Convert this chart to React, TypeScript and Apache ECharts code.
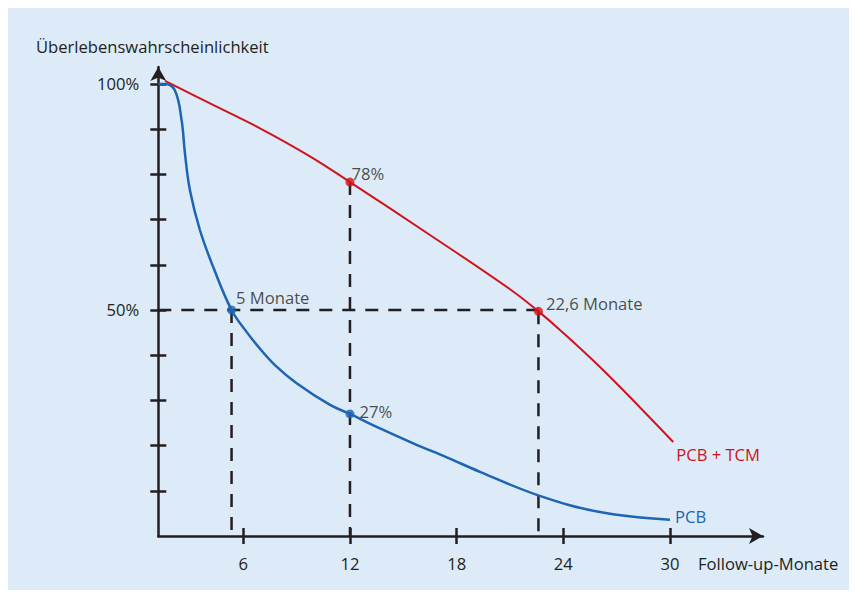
import React, { useEffect, useRef } from "react";
import * as echarts from "echarts";

// Follow-up months and survival probability (%)
const pcbMonths = [1.22, 1.59, 2.15, 2.53, 2.72, 3.0, 3.56, 4.31, 5.34, 6.1, 6.84, 7.78, 9.0, 10.88, 12.0, 13.69, 15.56, 17.44, 19.31, 22.59, 26.06, 30.0];
const pcbSurvival = [100, 100, 98.6, 92.0, 84.6, 76.5, 67.7, 59.5, 50, 45.6, 41.9, 37.8, 33.8, 29.0, 27, 23.8, 20.5, 17.4, 14.2, 9.0, 5.3, 3.6];

const tcmMonths = [1.6, 4.13, 6.94, 9.75, 12, 16.5, 21.0, 22.6, 23.81, 26.06, 28.3, 30.18];
const tcmSurvival = [100.7, 95.7, 90.2, 84.0, 78.3, 66.6, 54.6, 49.7, 45.6, 37.4, 28.5, 20.8];

// Highlighted points
const tcmPointMonths = [12, 22.6];
const tcmPointValues = [78.3, 49.7];
const tcmPointLabels = ["78%", "22,6 Monate"];

const pcbPointMonths = [5.34, 12];
const pcbPointValues = [50, 27];
const pcbPointLabels = ["5 Monate", "27%"];

// Axes
const xTickValues = [6, 12, 18, 24, 30];
const yTickValues = [10, 20, 30, 40, 50, 60, 70, 80, 90, 100];
const yLabelValues = [50, 100];
const xMin = 1.22;
const xMax = 35.23;
const yMin = 0;
const yMax = 103.76;
const halfLevel = 50;

const seriesNames = ["PCB + TCM", "PCB"];
const axisNames = ["Follow-up-Monate", "Überlebenswahrscheinlichkeit"];

const RED = "#d0131c";
const BLUE = "#1d64b4";
const INK = "#231f20";
const FONT = "Open Sans";
const FS = 16.6;

export default function App() {
  const ref = useRef<HTMLDivElement>(null);
  useEffect(() => {
    if (!ref.current) return;
    const chart = echarts.init(ref.current, undefined, { renderer: "svg" });

    const dashStyle = { color: INK, width: 2.5, type: [13, 10] as number[] };
    const guide = (pts: number[][]) => ({
      type: "line",
      data: pts,
      symbol: "none",
      lineStyle: dashStyle,
      silent: true,
      z: 1,
    });

    const labelOffsets: Record<string, number[]> = {
      "78%": [-8, -9],
      "22,6 Monate": [-2, -8],
      "5 Monate": [-5, -12],
      "27%": [0, -2],
    };

    const pointSeries = (months: number[], vals: number[], labels: string[], color: string) => ({
      type: "scatter",
      symbol: "circle",
      symbolSize: 9,
      itemStyle: { color },
      z: 5,
      data: months.map((m, i) => ({
        value: [m, vals[i]],
        label: {
          show: true,
          position: "right",
          distance: 5,
          formatter: labels[i],
          offset: labelOffsets[labels[i]],
          color: INK,
          fontSize: FS,
          fontFamily: FONT,
        },
      })),
    });

    const baseX = {
      type: "value",
      min: xMin,
      max: xMax,
      position: "bottom",
      splitLine: { show: false },
    };
    const baseY = {
      type: "value",
      min: yMin,
      max: yMax,
      position: "left",
      splitLine: { show: false },
    };

    chart.setOption({
      animation: false,
      backgroundColor: "transparent",
      grid: { left: 150.3, right: 86, top: 59, bottom: 54 },
      xAxis: [
        {
          ...baseX,
          axisLine: {
            show: true,
            onZero: false,
            lineStyle: { color: INK, width: 2.5 },
            symbol: ["none", "arrow"],
            symbolSize: [12, 14],
          },
          axisTick: { show: true, length: 8, customValues: xTickValues, lineStyle: { color: INK, width: 2.5 } },
          axisLabel: {
            show: true,
            customValues: xTickValues,
            margin: 19,
            color: INK,
            fontSize: FS,
            fontFamily: FONT,
          },
        },
        {
          ...baseX,
          axisLine: { show: false, onZero: false },
          axisTick: { show: true, inside: true, length: 8, customValues: xTickValues, lineStyle: { color: INK, width: 2.5 } },
          axisLabel: { show: false },
        },
      ],
      yAxis: [
        {
          ...baseY,
          name: axisNames[1],
          nameLocation: "end",
          nameGap: 12,
          nameTextStyle: { color: INK, fontSize: FS, fontFamily: FONT, align: "center", padding: [0, 12, 0, 0] },
          axisLine: {
            show: true,
            onZero: false,
            lineStyle: { color: INK, width: 2.5 },
            symbol: ["none", "arrow"],
            symbolSize: [12, 14],
          },
          axisTick: { show: true, length: 8, customValues: yTickValues, lineStyle: { color: INK, width: 2.5 } },
          axisLabel: {
            show: true,
            customValues: yLabelValues,
            formatter: "{value}%",
            margin: 19,
            color: INK,
            fontSize: FS,
            fontFamily: FONT,
          },
        },
        {
          ...baseY,
          axisLine: { show: false, onZero: false },
          axisTick: { show: true, inside: true, length: 8, customValues: yTickValues, lineStyle: { color: INK, width: 2.5 } },
          axisLabel: { show: false },
        },
      ],
      graphic: [
        {
          type: "text",
          x: 690,
          y: 555,
          style: {
            text: axisNames[0],
            fill: INK,
            font: `${FS}px "${FONT}"`,
            verticalAlign: "middle",
            align: "left",
          },
        },
      ],
      series: [
        guide([[xMin, halfLevel], [tcmPointMonths[1], halfLevel]]),
        guide([[pcbPointMonths[0], pcbPointValues[0]], [pcbPointMonths[0], 0]]),
        guide([[tcmPointMonths[0], tcmPointValues[0]], [tcmPointMonths[0], 0]]),
        guide([[tcmPointMonths[1], tcmPointValues[1]], [tcmPointMonths[1], 0]]),
        {
          type: "line",
          name: seriesNames[0],
          data: tcmMonths.map((m, i) => [m, tcmSurvival[i]]),
          smooth: 0.4,
          symbol: "none",
          lineStyle: { color: RED, width: 2 },
          z: 3,
          endLabel: {
            show: true,
            formatter: seriesNames[0],
            color: RED,
            fontSize: FS,
            fontFamily: FONT,
            offset: [-5, 13],
          },
        },
        {
          type: "line",
          name: seriesNames[1],
          data: pcbMonths.map((m, i) => [m, pcbSurvival[i]]),
          smooth: 0.4,
          symbol: "none",
          lineStyle: { color: BLUE, width: 2.5 },
          z: 3,
          endLabel: {
            show: true,
            formatter: seriesNames[1],
            color: BLUE,
            fontSize: FS,
            fontFamily: FONT,
            offset: [-3, -3],
          },
        },
        pointSeries(tcmPointMonths, tcmPointValues, tcmPointLabels, RED),
        pointSeries(pcbPointMonths, pcbPointValues, pcbPointLabels, BLUE),
      ],
    });
    return () => chart.dispose();
  }, []);

  return <div ref={ref} style={{ width: 841, height: 582, background: "#ddeaf7" }} />;
}
